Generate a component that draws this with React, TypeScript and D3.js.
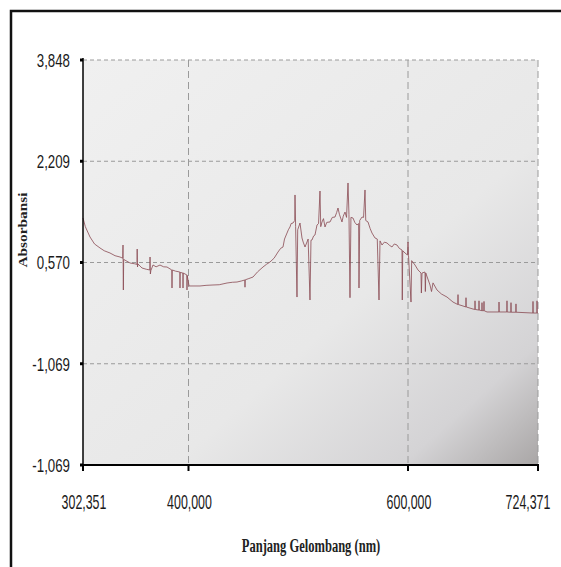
import React from "react";
import * as d3 from "d3";

// wavelength (nm) and absorbance
const wavelength = [
  302.35, 304.5, 308.83, 313, 318.09, 322, 327.34, 332, 336.6, 339.1, 339.38, 339.7, 340.0,
  345.86, 350, 352.3, 352.5, 352.8, 353.2, 356.96, 361, 364.2, 364.4, 364.7, 365.2, 367.14,
  370, 373.62, 377, 380.1, 384.5, 384.73, 385, 388, 392.0, 392.13, 392.3, 394.8, 394.91,
  395.1, 398.5, 398.61, 398.8, 400.5, 405, 410.48, 416, 422.33, 428, 435.08, 440, 444.19,
  448, 451.3, 451.48, 451.7, 455, 458.77, 463, 467.88, 471, 474.26, 478, 481.55, 484,
  486.1, 487.5, 489.75, 491, 492.48, 493.5, 495.22, 496.8, 497.04, 497.6, 498.86, 499.5,
  501.59, 503.41, 504.5, 506.15, 507.97, 509, 510.7, 511.6, 512.52, 514, 515.26, 517.08,
  518.5, 519.81, 520.5, 521.64, 523, 524.37, 526, 528.93, 531, 533.48, 535, 536.22, 537.5,
  539.86, 541, 542.6, 544, 545.33, 546.2, 547.15, 548, 549.89, 551.5, 553.53, 555.0,
  555.35, 556, 558.09, 559.5, 560.82, 561.5, 563.56, 565.5, 567.2, 569.93, 572, 573.58,
  574.5, 576.31, 578.5, 580.87, 583, 585.42, 587.5, 589.98, 592, 594.53, 594.8, 595.2,
  597.27, 599.5, 600.0, 600.5, 602.87, 603.5, 606.7, 609.57, 612.44, 612.8, 613.4, 616.26,
  616.6, 617, 621.05, 622.5, 623.92, 627.74, 632, 637.31, 643.05, 647.6, 647.84, 648.1,
  652.62, 655.3, 655.49, 655.7, 662.19, 664.0, 664.1, 664.3, 667.8, 667.93, 668.1, 670.7,
  670.8, 670.9, 672.6, 672.71, 672.8, 675.58, 687.0, 687.06, 687.2, 694.6, 694.71, 694.8,
  698.4, 698.54, 698.7, 700.45, 703.2, 703.32, 703.4, 719.5, 719.59, 719.7, 723.3, 723.42,
  723.6, 724.37,
];

const absorbance = [
  1.29, 1.15, 0.983, 0.87, 0.805, 0.76, 0.724, 0.68, 0.659, 0.64, 0.853, 0.125, 0.62,
  0.562, 0.55, 0.54, 0.788, 0.497, 0.546, 0.481, 0.46, 0.449, 0.659, 0.384, 0.44, 0.53,
  0.5, 0.529, 0.5, 0.497, 0.449, 0.157, 0.449, 0.43, 0.416, 0.157, 0.41, 0.4, 0.157,
  0.4, 0.368, 0.125, 0.36, 0.19, 0.19, 0.19, 0.2, 0.206, 0.21, 0.238, 0.25, 0.254,
  0.27, 0.287, 0.17, 0.29, 0.31, 0.335, 0.42, 0.497, 0.54, 0.578, 0.64, 0.74, 0.8,
  0.82, 0.95, 1.047, 1.1, 1.145, 1.2, 1.209, 1.25, 1.663, 1.15, 0.011, 1.1,
  1.209, 0.967, 0.9, 0.821, 0.902, 0.95, -0.037, 0.93, 0.934, 1.0, 1.015, 1.177,
  1.2, 1.727, 1.15, 1.226, 1.28, 1.145, 1.22, 1.226, 1.3, 1.306, 1.38, 1.452, 1.35,
  1.226, 1.32, 1.387, 1.3, 1.857, 1.35, 0.0, 1.3, 1.29, 1.22, 1.177, 1.2,
  0.157, 1.25, 1.306, 1.3, 1.744, 1.25, 1.226, 1.12, 1.047, 0.967, 0.95, -0.037,
  0.92, 0.853, 0.9, 0.886, 0.85, 0.821, 0.87, 0.853, 0.8, 0.772, -0.037, 0.76,
  0.724, 0.691, 0.902, 0.68, -0.07, 0.6, 0.529, 0.449, 0.4, 0.076, 0.4, 0.416,
  0.1, 0.4, 0.206, 0.1, 0.24, 0.125, 0.06, 0.011, -0.07, -0.11, 0.05, -0.11,
  -0.134, -0.15, 0.0, -0.15, -0.183, -0.19, -0.05, -0.19, -0.2, -0.05, -0.2, -0.21,
  -0.08, -0.21, -0.21, -0.06, -0.21, -0.231, -0.231, -0.07, -0.231, -0.231, -0.05, -0.231,
  -0.235, -0.08, -0.235, -0.235, -0.235, -0.1, -0.235, -0.248, -0.06, -0.248, -0.248, -0.05,
  -0.248, -0.248,
];

const xTicks = [302.351, 400, 600, 724.371];
const xTickLabels = ["302,351", "400,000", "600,000", "724,371"];
const yTicks = [3.848, 2.209, 0.57, -1.069, -2.708];
const yTickLabels = ["3,848", "2,209", "0,570", "-1,069", "-1,069"];

const W = 561;
const H = 567;
const left = 83;
const right = 538;
const top = 60;
const bottom = 465;

export default function App() {
  // axis of the original is not quite linear, so the ticks pin the scale
  const x = d3.scaleLinear().domain(xTicks).range([left, 188.5, 408, right]);
  const y = d3.scaleLinear().domain([yTicks[0], yTicks[4]]).range([top, bottom]);

  const pts: [number, number][] = wavelength.map((w, i) => [w, absorbance[i]]);
  const line = d3
    .line<[number, number]>()
    .x((d) => x(d[0]))
    .y((d) => y(d[1]));

  const tickFont = "'Liberation Sans', Arial, sans-serif";
  const titleFont = "'Liberation Serif', 'Times New Roman', serif";

  return (
    <div style={{ position: "absolute", left: 0, top: 0 }}>
      <svg width={W} height={H} style={{ display: "block" }}>
        <defs>
          <linearGradient id="bg" x1="0" y1="0" x2="1" y2="1">
            <stop offset="0" stopColor="#f0f0f0" />
            <stop offset="0.6" stopColor="#e8e8e8" />
            <stop offset="0.85" stopColor="#d4d3d5" />
            <stop offset="1" stopColor="#a9a6a6" />
          </linearGradient>
        </defs>
        <rect x={0} y={0} width={W} height={H} fill="#ffffff" />
        <rect x={11} y={11} width={W} height={H} fill="none" stroke="#111" strokeWidth={2.5} />

        <rect x={left} y={top} width={right - left} height={bottom - top} fill="url(#bg)" />

        {yTicks.slice(0, 4).map((t) => (
          <line key={"gy" + t} x1={left} x2={right} y1={y(t)} y2={y(t)}
            stroke="#9a9a9a" strokeWidth={1} strokeDasharray="4,3" />
        ))}
        {xTicks.slice(1).map((t) => (
          <line key={"gx" + t} x1={x(t)} x2={x(t)} y1={top} y2={bottom}
            stroke="#9a9a9a" strokeWidth={1} strokeDasharray="7,4" />
        ))}

        <path d={line(pts) || ""} fill="none" stroke="#8a4a52" strokeWidth={1}
          strokeOpacity={0.8} strokeLinejoin="round" />

        <line x1={left} x2={left} y1={top - 2} y2={bottom} stroke="#000" strokeWidth={1.5} />
        <line x1={left - 1} x2={right + 1} y1={bottom} y2={bottom} stroke="#000" strokeWidth={2} />

        {yTicks.map((t, i) => (
          <g key={"yt" + i}>
            <line x1={left - 3} x2={left} y1={y(t)} y2={y(t)} stroke="#000" strokeWidth={3} />
            <text transform={`translate(70,${y(t)}) scale(0.7,1)`} dy="0.36em" textAnchor="end"
              fontFamily={tickFont} fontSize={19} fill="#1a1a1a">
              {yTickLabels[i]}
            </text>
          </g>
        ))}
        {xTicks.map((t, i) => (
          <g key={"xt" + i}>
            <line x1={x(t)} x2={x(t)} y1={bottom} y2={bottom + 6} stroke="#000" strokeWidth={2} />
            <text transform={`translate(${i === 3 ? x(t) - 10 : x(t) + 1},502) scale(0.62,1)`}
              dy="0.36em" textAnchor="middle" fontFamily={tickFont} fontSize={20} fill="#1a1a1a">
              {xTickLabels[i]}
            </text>
          </g>
        ))}

        <text transform="translate(311,552) scale(0.66,1)" textAnchor="middle" fontFamily={titleFont}
          fontWeight="bold" fontSize={19} fill="#222">
          Panjang Gelombang (nm)
        </text>
        <text transform="translate(27,230) rotate(-90)" textAnchor="middle" fontFamily={titleFont}
          fontWeight="bold" fontSize={13} fill="#222" textLength={75} lengthAdjust="spacingAndGlyphs">
          Absorbansi
        </text>
      </svg>
    </div>
  );
}
